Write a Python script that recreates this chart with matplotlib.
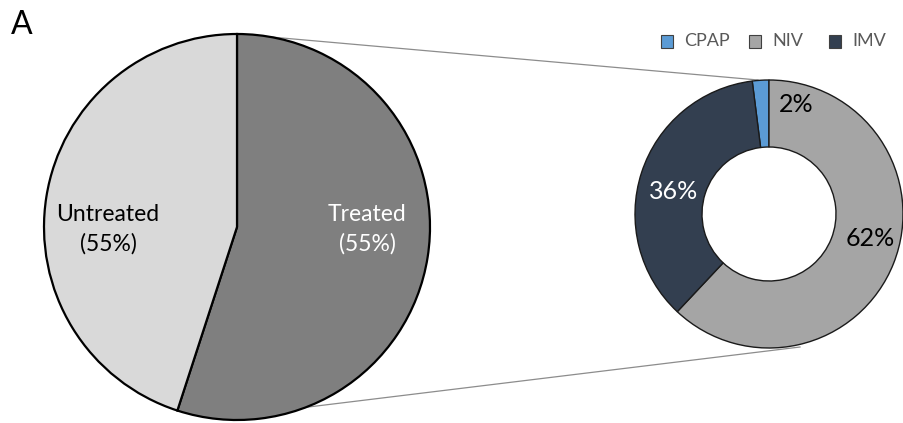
import matplotlib
matplotlib.use('Agg')
import matplotlib.pyplot as plt
from matplotlib.patches import Rectangle

plt.rcParams['font.family'] = ['Lato', 'DejaVu Sans']

# Overall split of patients
group_names = ['Treated', 'Untreated']
group_values = [55, 45]
group_texts = ['Treated\n(55%)', 'Untreated\n(55%)']
group_colors = ['#7f7f7f', '#d9d9d9']
group_text_colors = ['white', 'black']

# Breakdown of the treated group
support_names = ['CPAP', 'NIV', 'IMV']
support_values = [2, 62, 36]
support_colors = ['#5b9bd5', '#a5a5a5', '#333f50']
support_text_colors = ['black', 'black', 'white']

W, H = 904, 423
fig = plt.figure(figsize=(W / 100, H / 100), dpi=100)
ax = fig.add_axes([0, 0, 1, 1])
ax.set_xlim(0, W)
ax.set_ylim(0, H)
ax.set_aspect('equal')
ax.axis('off')

# pixel-style coordinates, y measured from the top
def Y(y):
    return H - y

big_c, big_r = (237, Y(227)), 193
don_c, don_r = (769, Y(214)), 134

# connector lines from the treated slice to the donut
ax.plot([237, 758], [Y(34), Y(80)], color='#8c8c8c', lw=0.9, zorder=1)
ax.plot([292, 800], [Y(409), Y(347)], color='#8c8c8c', lw=0.9, zorder=1)

wedges, _ = ax.pie(group_values, colors=group_colors, startangle=90,
                   counterclock=False, center=big_c, radius=big_r,
                   wedgeprops=dict(edgecolor='black', linewidth=1.6))
for w in wedges:
    w.set_zorder(2)
ax.text(367, Y(229), group_texts[0], ha='center', va='center',
        fontsize=16.5, color=group_text_colors[0], zorder=5, linespacing=1.45)
ax.text(108, Y(229), group_texts[1], ha='center', va='center',
        fontsize=16.5, color=group_text_colors[1], zorder=5, linespacing=1.45)

# donut: NIV begins at 12 o'clock, CPAP sits just before it
start = 90 + 360 * support_values[0] / sum(support_values)
wedges2, _ = ax.pie(support_values, colors=support_colors, startangle=start,
                    counterclock=False, center=don_c, radius=don_r,
                    wedgeprops=dict(width=don_r * 0.5, edgecolor='#1a1a1a',
                                    linewidth=1.0))
for w in wedges2:
    w.set_zorder(2)

pct_pos = [(796, 104), (870, 238), (674, 191)]
for v, (x, y), c in zip(support_values, pct_pos, support_text_colors):
    ax.text(x, Y(y), f'{v}%', ha='center', va='center', fontsize=18,
            color=c, zorder=5)

# legend
leg_x = [661, 749, 829]
for name, col, x in zip(support_names, support_colors, leg_x):
    ax.add_patch(Rectangle((x, Y(48)), 12, 13, facecolor=col,
                           edgecolor='#404040', linewidth=0.8, zorder=5))
    ax.text(x + 23, Y(41), name, ha='left', va='center', fontsize=13,
            color='#595959', zorder=5)

ax.text(11, Y(25), 'A', ha='left', va='center', fontsize=23, color='black')

ax.set_xlim(0, W)
ax.set_ylim(0, H)
fig.savefig('out.png', dpi=100)
